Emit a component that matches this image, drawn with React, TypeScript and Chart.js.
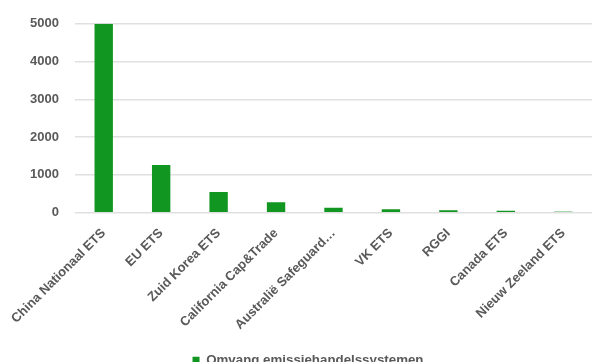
import React, { useEffect, useRef } from "react";
import { Chart, registerables } from "chart.js";

Chart.register(...registerables);

const categories = [
  "China Nationaal ETS",
  "EU ETS",
  "Zuid Korea ETS",
  "California Cap&Trade",
  "Australië Safeguard…",
  "VK ETS",
  "RGGI",
  "Canada ETS",
  "Nieuw Zeeland ETS",
];
const seriesName = "Omvang emissiehandelssystemen";
const values = [5000, 1262, 548, 272, 132, 88, 62, 53, 40];
const yTicks = [0, 1000, 2000, 3000, 4000, 5000];

const GREEN = "#129622";
const LIGHT_GREEN = "#a9d6ad";
const barColors = categories.map((_, i) => (i === categories.length - 1 ? LIGHT_GREEN : GREEN));
const TEXT = "#595959";
const FONT = "'Liberation Sans', Arial, sans-serif";

export default function App() {
  const ref = useRef<HTMLCanvasElement | null>(null);
  useEffect(() => {
    if (!ref.current) return;
    const chart = new Chart(ref.current, {
      type: "bar",
      data: {
        labels: categories,
        datasets: [
          {
            label: seriesName,
            data: values,
            backgroundColor: barColors,
            borderWidth: 0,
            categoryPercentage: 1,
            barPercentage: 0.32,
          },
        ],
      },
      options: {
        animation: false,
        responsive: false,
        maintainAspectRatio: false,
        layout: { padding: { left: 24, right: 0, top: 16, bottom: 0 } },
        plugins: {
          tooltip: { enabled: false },
          legend: {
            position: "bottom",
            labels: {
              color: TEXT,
              font: { family: FONT, size: 13.3, weight: "bold" },
              boxWidth: 7,
              boxHeight: 7,
              padding: 8,
              generateLabels: () => [
                {
                  text: seriesName,
                  fillStyle: GREEN,
                  strokeStyle: GREEN,
                  lineWidth: 0,
                  hidden: false,
                  datasetIndex: 0,
                  fontColor: TEXT,
                },
              ],
            },
          },
        },
        scales: {
          x: {
            grid: { display: false, drawTicks: false },
            border: { display: false },
            afterFit: (s: any) => {
              s.paddingLeft = 0;
              s.paddingRight = 0;
            },
            ticks: {
              color: TEXT,
              font: { family: FONT, size: 13, weight: "bold" },
              maxRotation: 45,
              minRotation: 45,
              autoSkip: false,
              padding: 13,
            },
          },
          y: {
            min: 0,
            max: 5000,
            afterBuildTicks: (axis: any) => {
              axis.ticks = yTicks.map((v) => ({ value: v }));
            },
            afterFit: (s: any) => {
              s.width = 51;
            },
            grid: { color: "#e0e0e0", lineWidth: 1.5, drawTicks: false },
            border: { display: false },
            ticks: {
              color: TEXT,
              font: { family: FONT, size: 13, weight: "bold" },
              padding: 16,
              callback: (v: any) => String(v),
            },
          },
        },
      },
    });
    return () => chart.destroy();
  }, []);
  return (
    <div style={{ position: "fixed", left: 0, top: 0, width: 592, height: 362, overflow: "hidden", background: "#fff" }}>
      <canvas ref={ref} width={592} height={377} style={{ display: "block" }} />
    </div>
  );
}
